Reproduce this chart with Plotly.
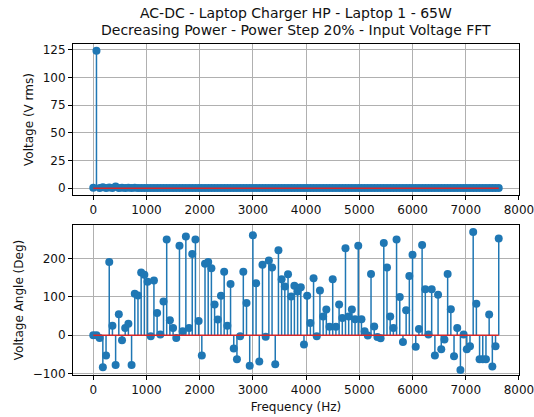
import plotly.graph_objects as go

# FFT bin frequencies (Hz)
freq_hz = [
    0, 60, 120, 180, 240, 300, 360, 420, 480, 540, 600, 660, 720, 780, 840, 900,
    960, 1020, 1080, 1140, 1200, 1260, 1320, 1380, 1440, 1500, 1560, 1620, 1680, 1740, 1800, 1860,
    1920, 1980, 2040, 2100, 2160, 2220, 2280, 2340, 2400, 2460, 2520, 2580, 2640, 2700, 2760, 2820,
    2880, 2940, 3000, 3060, 3120, 3180, 3240, 3300, 3360, 3420, 3480, 3540, 3600, 3660, 3720, 3780,
    3840, 3900, 3960, 4020, 4080, 4140, 4200, 4260, 4320, 4380, 4440, 4500, 4560, 4620, 4680, 4740,
    4800, 4860, 4920, 4980, 5040, 5100, 5160, 5220, 5280, 5340, 5400, 5460, 5520, 5580, 5640, 5700,
    5760, 5820, 5880, 5940, 6000, 6060, 6120, 6180, 6240, 6300, 6360, 6420, 6480, 6540, 6600, 6660,
    6720, 6780, 6840, 6900, 6960, 7020, 7080, 7140, 7200, 7260, 7320, 7380, 7440, 7500, 7560, 7620,
]

# Magnitude of each bin (V rms)
voltage_rms = [
    0.3, 124.0, 0.1, 0.8, 0.1, 0.6, 0.1, 1.5, 0.1, 0.4, 0.1, 0.3, 0.1, 0.3, 0.1, 0.2,
    0.1, 0.2, 0.1, 0.2, 0.1, 0.2, 0.1, 0.2, 0.1, 0.2, 0.1, 0.2, 0.1, 0.2, 0.1, 0.2,
    0.1, 0.2, 0.1, 0.2, 0.1, 0.2, 0.1, 0.2, 0.1, 0.2, 0.1, 0.2, 0.1, 0.2, 0.1, 0.2,
    0.1, 0.2, 0.1, 0.2, 0.1, 0.2, 0.1, 0.2, 0.1, 0.2, 0.1, 0.2, 0.1, 0.2, 0.1, 0.2,
    0.1, 0.2, 0.1, 0.2, 0.1, 0.2, 0.1, 0.2, 0.1, 0.2, 0.1, 0.2, 0.1, 0.2, 0.1, 0.2,
    0.1, 0.2, 0.1, 0.2, 0.1, 0.2, 0.1, 0.2, 0.1, 0.2, 0.1, 0.2, 0.1, 0.2, 0.1, 0.2,
    0.1, 0.2, 0.1, 0.2, 0.1, 0.2, 0.1, 0.2, 0.1, 0.2, 0.1, 0.2, 0.1, 0.2, 0.1, 0.2,
    0.1, 0.2, 0.1, 0.2, 0.1, 0.2, 0.1, 0.2, 0.1, 0.2, 0.1, 0.2, 0.1, 0.2, 0.1, 0.2,
]

# Phase of each bin (degrees)
angle_deg = [
    0, 0, -7, -84, -53, 191, 25, -78, 55, -13, 19, 30, -78, 108, 104, 164,
    158, 140, -3, 143, 58, 2, 88, 250, 39, 19, -7, 234, 10, 258, 19, 212,
    250, 37, -53, 187, 191, 175, 80, 41, 103, 166, 25, 134, -35, -63, -3, 166,
    84, -80, 261, 136, -69, 184, -4, 195, 177, -76, 222, 146, 127, 159, 101, 129,
    114, 125, -24, 103, 32, 149, -3, 117, 49, 67, 22, 146, 22, 80, 45, 227,
    49, 67, 42, 234, 42, 10, -1, 160, 23, -5, -8, 241, 177, 49, 19, 250,
    100, -18, 65, 155, 210, -30, 16, 236, 120, 2, 120, -53, 106, -37, -11, 160,
    68, -55, 19, -91, 2, -37, -29, 270, 82, -63, -63, -63, 54, -82, -29, 253,
]

title_lines = [
    "AC-DC - Laptop Charger HP - Laptop 1 - 65W",
    "Decreasing Power - Power Step 20% - Input Voltage FFT",
]
x_ticks = [0, 1000, 2000, 3000, 4000, 5000, 6000, 7000, 8000]
top_y_ticks = [0, 25, 50, 75, 100, 125]
bottom_y_ticks = [-100, 0, 100, 200]

STEM = "#1f77b4"
BASE = "#d62728"
FONT = "DejaVu Sans"
X_RANGE = [-381, 8001]
PLOT_H = 417 - 44 - 42


def stem_traces(x, y, xa, ya):
    sx, sy = [], []
    for xi, yi in zip(x, y):
        sx += [xi, xi, None]
        sy += [0, yi, None]
    lines = go.Scatter(x=sx, y=sy, mode="lines", xaxis=xa, yaxis=ya,
                       line=dict(color=STEM, width=1.5), hoverinfo="skip")
    marks = go.Scatter(x=x, y=y, mode="markers", xaxis=xa, yaxis=ya,
                       marker=dict(color=STEM, size=8, line=dict(width=0)))
    base = go.Scatter(x=[min(x), max(x)], y=[0, 0], mode="lines", xaxis=xa, yaxis=ya,
                      line=dict(color=BASE, width=1.5), hoverinfo="skip")
    return [lines, marks, base]


fig = go.Figure()
for t in stem_traces(freq_hz, voltage_rms, "x", "y"):
    fig.add_trace(t)
for t in stem_traces(freq_hz, angle_deg, "x2", "y2"):
    fig.add_trace(t)

axis_common = dict(
    showgrid=True, gridcolor="#b0b0b0", gridwidth=0.8,
    showline=True, linecolor="black", linewidth=1, mirror=True,
    ticks="outside", ticklen=4, tickwidth=1, tickcolor="black",
    zeroline=False, automargin=False, ticklabeloverflow="allow",
    tickfont=dict(family=FONT, size=12, color="#111"),
)

fig.update_layout(
    width=534, height=417,
    margin=dict(l=73, r=15, t=44, b=42),
    paper_bgcolor="white", plot_bgcolor="white",
    showlegend=False,
    font=dict(family=FONT, size=12, color="#111"),
    xaxis=dict(domain=[0, 1], anchor="y", range=X_RANGE, tickvals=x_ticks, **axis_common),
    yaxis=dict(domain=[0.5438, 1], anchor="x", range=[-6.2, 130.2], tickvals=top_y_ticks,
               title=dict(text="Voltage (V rms)", font=dict(family=FONT, size=12), standoff=6),
               **axis_common),
    xaxis2=dict(domain=[0, 1], anchor="y2", range=X_RANGE, tickvals=x_ticks,
                title=dict(text="Frequency (Hz)", font=dict(family=FONT, size=12), standoff=6),
                **axis_common),
    yaxis2=dict(domain=[0, 0.4532], anchor="x2", range=[-104, 288], tickvals=bottom_y_ticks,
                title=dict(text="Voltage Angle (Deg)", font=dict(family=FONT, size=12), standoff=6),
                **axis_common),
)

for line, ypx in zip(title_lines, [13, 30]):
    fig.add_annotation(
        text=line, xref="paper", yref="paper", x=0.5, y=1 + (44 - ypx) / PLOT_H,
        xanchor="center", yanchor="middle", showarrow=False,
        font=dict(family=FONT, size=14, color="#111"),
    )

# Keep the page free of scrollbars so the full 534 px width stays visible
no_scroll = (
    "document.documentElement.style.overflow='hidden';"
    "document.body.style.overflow='hidden';"
    "document.body.style.margin='0';"
)
fig.write_html("out.html", post_script=no_scroll, config={"responsive": False})
